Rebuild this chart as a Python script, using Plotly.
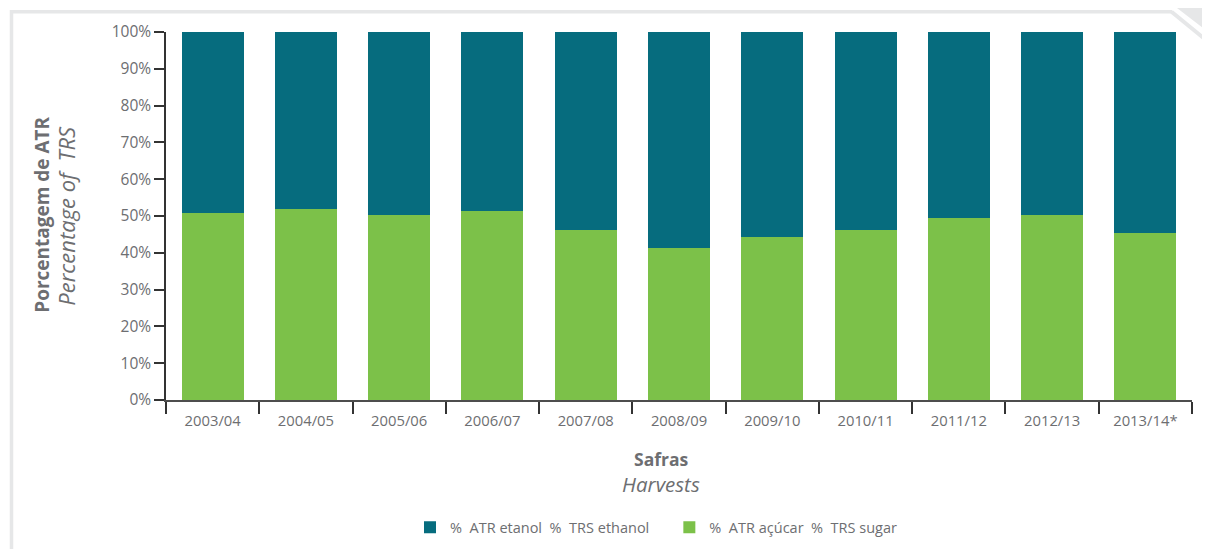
import plotly.graph_objects as go

harvests = ["2003/04", "2004/05", "2005/06", "2006/07", "2007/08", "2008/09",
            "2009/10", "2010/11", "2011/12", "2012/13", "2013/14*"]
atr_sugar = [50.7, 51.8, 50.2, 51.3, 46.3, 41.2, 44.2, 46.3, 49.4, 50.2, 45.3]
atr_ethanol = [49.3, 48.2, 49.8, 48.7, 54.0, 58.8, 55.8, 54.0, 50.9, 49.8, 55.0]

name_ethanol = "%\u00a0 ATR etanol\u00a0 %\u00a0 TRS ethanol\u00a0\u00a0\u00a0\u00a0"
name_sugar = "%\u00a0 ATR açúcar\u00a0 %\u00a0 TRS sugar"

TEAL = "#066c7e"
GREEN = "#7cc149"
GREY = "#6d6e71"
FRAME = "#e6e7e8"

# the page body adds 8px, so the figure is placed 8px right and down
OFF = 8
W, H = 1210, 549
ML, MT = 166 - OFF, 32 - OFF
MR = W - (1192 - OFF)
MB = H - (400.5 - OFF)


def px(x):
    # page pixel -> paper x
    return (x - OFF - ML) / (W - ML - MR)


def py(y):
    # page pixel -> paper y
    return (H - MB - (y - OFF)) / (H - MT - MB)


fig = go.Figure()
fig.add_trace(go.Bar(x=harvests, y=atr_sugar, name=name_sugar,
                     marker=dict(color=GREEN, line=dict(width=0))))
fig.add_trace(go.Bar(x=harvests, y=atr_ethanol, name=name_ethanol,
                     marker=dict(color=TEAL, line=dict(width=0))))

fig.update_layout(
    width=W, height=H,
    barmode="stack", bargap=0.335,
    plot_bgcolor="white", paper_bgcolor="white",
    margin=dict(l=ML, r=MR, t=MT, b=MB, autoexpand=False),
    font=dict(family="Open Sans", color=GREY, size=15),
    showlegend=True,
    legend=dict(orientation="h", traceorder="reversed", x=px(410), xanchor="left",
                y=py(528), yanchor="middle", font=dict(size=14.5, color=GREY),
                itemwidth=30, bgcolor="rgba(0,0,0,0)"),
    xaxis=dict(showline=True, linecolor="#4d4d4d", linewidth=1.5,
               ticks="outside", tickson="boundaries", ticklen=12, tickwidth=1.5,
               tickcolor="#333333", showgrid=False, zeroline=False,
               ticklabelstandoff=6, tickfont=dict(size=14.8, color=GREY)),
    yaxis=dict(range=[0, 100], dtick=10, ticksuffix="%", showline=True,
               linecolor="#333333", linewidth=1.5, ticks="outside", ticklen=10,
               tickwidth=1.5, tickcolor="#333333", showgrid=False, zeroline=False,
               tickfont=dict(size=15.5, color=GREY)),
)

# axis titles
titles = [
    ("<b>Porcentagem de ATR</b>", 42, 215, 19, -90),
    ("<i>Percentage of\u00a0 TRS</i>", 66, 216, 22, -90),
    ("<b>Safras</b>", 661, 460, 17.5, 0),
    ("<i>Harvests</i>", 661, 485, 20.5, 0),
]
for text, tx, ty, size, angle in titles:
    fig.add_annotation(text=text, xref="paper", yref="paper",
                       x=px(tx), y=py(ty), xanchor="center", yanchor="middle",
                       textangle=angle, showarrow=False,
                       font=dict(size=size, color=GREY))

# light grey frame with folded top-right corner
fig.add_shape(type="line", xref="paper", yref="paper",
              x0=px(11.5), y0=py(10), x1=px(11.5), y1=py(560),
              line=dict(color=FRAME, width=3.5))
fig.add_shape(type="line", xref="paper", yref="paper",
              x0=px(10), y0=py(11.7), x1=px(1172), y1=py(11.7),
              line=dict(color=FRAME, width=3.5))
fig.add_shape(type="line", xref="paper", yref="paper",
              x0=px(1171.5), y0=py(11.7), x1=px(1212), y1=py(45),
              line=dict(color=FRAME, width=4))
fig.add_shape(type="path", xref="paper", yref="paper",
              path=f"M {px(1177)} {py(8)} L {px(1212)} {py(8)} L {px(1212)} {py(35)} Z",
              fillcolor=FRAME, line=dict(width=0))

fig.write_html("out.html")
